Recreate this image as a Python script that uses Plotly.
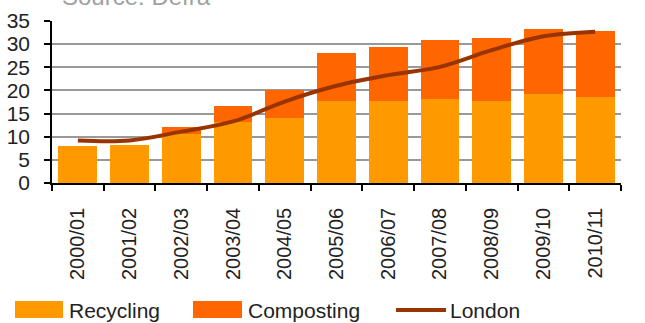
import plotly.graph_objects as go

years = ["2000/01", "2001/02", "2002/03", "2003/04", "2004/05", "2005/06",
         "2006/07", "2007/08", "2008/09", "2009/10", "2010/11"]
recycling = [8.0, 8.3, 10.5, 13.2, 14.1, 17.8, 17.8, 18.2, 17.8, 19.3, 18.6]
composting_total = [8.0, 8.3, 12.2, 16.7, 20.1, 28.0, 29.4, 31.0, 31.3, 33.2, 32.8]
composting = [round(t - r, 2) for t, r in zip(composting_total, recycling)]
london = [9.2, 9.2, 11.1, 13.3, 17.6, 21.0, 23.3, 25.1, 28.7, 31.7, 32.7]

series_names = ["Recycling", "Composting", "London"]
series_colors = ["#FF9900", "#FF6600", "#993300"]

font = "Liberation Sans, Arial, sans-serif"
W, H = 645, 323
L, R, T, B = 52, 24, 21, 140
PW, PH = W - L - R, H - T - B


def px(xp):
    return (xp - L) / PW


def py(yp):
    return (H - B - yp) / PH


fig = go.Figure()
fig.add_bar(x=years, y=recycling, name=series_names[0],
            marker_color=series_colors[0], marker_line_width=0)
fig.add_bar(x=years, y=composting, name=series_names[1],
            marker_color=series_colors[1], marker_line_width=0)
fig.add_scatter(x=years, y=london, name=series_names[2], mode="lines",
                line=dict(color=series_colors[2], width=4, shape="spline"))

# manual legend (big swatches like the reference)
shapes = [
    dict(type="rect", xref="paper", yref="paper", x0=px(15), x1=px(63),
         y0=py(318), y1=py(301), fillcolor=series_colors[0], line_width=0),
    dict(type="rect", xref="paper", yref="paper", x0=px(193), x1=px(242),
         y0=py(318), y1=py(301), fillcolor=series_colors[1], line_width=0),
    dict(type="line", xref="paper", yref="paper", x0=px(396), x1=px(446),
         y0=py(310), y1=py(310), line=dict(color=series_colors[2], width=4)),
]
annotations = [
    dict(text=series_names[0], x=px(67), y=py(310)),
    dict(text=series_names[1], x=px(246), y=py(310)),
    dict(text=series_names[2], x=px(448), y=py(310)),
]
for a in annotations:
    a.update(xref="paper", yref="paper", xanchor="left", yanchor="middle",
             showarrow=False, font=dict(size=21, color="#222222"))
annotations.append(dict(text="Source: Defra", xref="paper", yref="paper",
                        x=px(60), y=py(12), xanchor="left", yanchor="bottom",
                        showarrow=False,
                        font=dict(size=24, color="#a0a0a0")))

fig.update_layout(
    width=W, height=H,
    margin=dict(l=L, r=R, t=T, b=B),
    barmode="stack", bargap=0.25,
    plot_bgcolor="white", paper_bgcolor="white",
    font=dict(family=font, size=21, color="#222222"),
    showlegend=False,
    shapes=shapes,
    annotations=annotations,
)
fig.update_xaxes(showline=True, linecolor="black", linewidth=1.5,
                 ticks="outside", tickson="boundaries", ticklen=6,
                 tickcolor="black", tickwidth=1.5, tickangle=-90,
                 showgrid=False, tickfont=dict(size=20),
                 ticklabelstandoff=15, automargin=False)
fig.update_yaxes(range=[0, 35], dtick=5, showline=True, linecolor="black",
                 linewidth=1.5, ticks="outside", ticklen=6, tickcolor="black",
                 tickwidth=1.5, showgrid=True, gridcolor="#999999",
                 gridwidth=1.5, tickfont=dict(size=21), zeroline=False,
                 ticklabelstandoff=10, automargin=False)

fig.write_html("out.html")
